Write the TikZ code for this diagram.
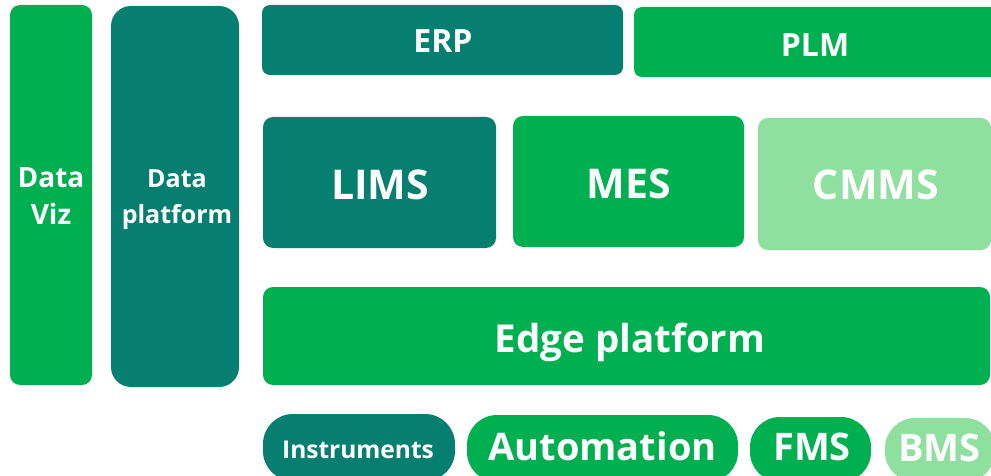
\documentclass[tikz,border=0pt]{standalone}
\usepackage{fontspec}
\IfFontExistsTF{Open Sans SemiBold}{\setmainfont{Open Sans}[BoldFont={Open Sans SemiBold}]}{\setmainfont{Open Sans}}
\definecolor{cgreen}{HTML}{00AF50}
\definecolor{cteal}{HTML}{067F70}
\definecolor{clight}{HTML}{8FE09E}
\tikzset{
  lblb/.style={text=white, inner sep=0pt, font=\bfseries\fontsize{#1}{#1}\selectfont, anchor=base},
  sq/.style={rounded corners=10pt},
}
\begin{document}
\begin{tikzpicture}[x=1pt,y=-1pt]
\useasboundingbox (0,0) rectangle (991,476);
\clip (0,0) rectangle (991,476);
% left columns
\fill[cgreen, rounded corners=10pt] (10,5) rectangle (92,385);
\fill[cteal, rounded corners=20pt] (111,6) rectangle (239,387);
% top row
\fill[cteal, rounded corners=8pt] (262,5) rectangle (623,75);
\fill[cgreen, rounded corners=8pt] (634,7) rectangle (1010,77);
% middle row
\fill[cteal, sq] (263,117) rectangle (496,248);
\fill[cgreen, sq] (513,116) rectangle (744,247);
\fill[clight, sq] (758,118) rectangle (991,250);
% edge
\fill[cgreen, sq] (263,287) rectangle (990,385);
% pills
\fill[cteal, rounded corners=30pt] (263,414) rectangle (455,481);
\fill[cgreen, rounded corners=30pt] (467,415) rectangle (738,482);
\fill[cgreen, rounded corners=30pt] (750,417) rectangle (871,482);
\fill[clight, rounded corners=30pt] (885,418) rectangle (995,482);
% labels
\node[lblb=28] (dv1) at (51,187) {Data};
\node[lblb=28] (dv2) at (51,224) {Viz};
\node[lblb=25] (dp1) at (177,188) {Data};
\node[lblb=25] (dp2) at (177,223) {platform};
\node[lblb=32] (erp) at (443,53) {ERP};
\node[lblb=32] (plm) at (815,57) {PLM};
\node[lblb=41] (lims) at (380,200) {LIMS};
\node[lblb=41] (mes) at (628.5,199) {MES};
\node[lblb=41] (cmms) at (876,200) {CMMS};
\node[lblb=38.5] (edge) at (630,352) {Edge platform};
\node[lblb=24.5] (instr) at (358,458) {Instruments};
\node[lblb=38] (auto) at (602.5,460) {Automation};
\node[lblb=38] (fms) at (812,460) {FMS};
\node[lblb=38] (bms) at (939.5,461) {BMS};
\end{tikzpicture}
\end{document}
